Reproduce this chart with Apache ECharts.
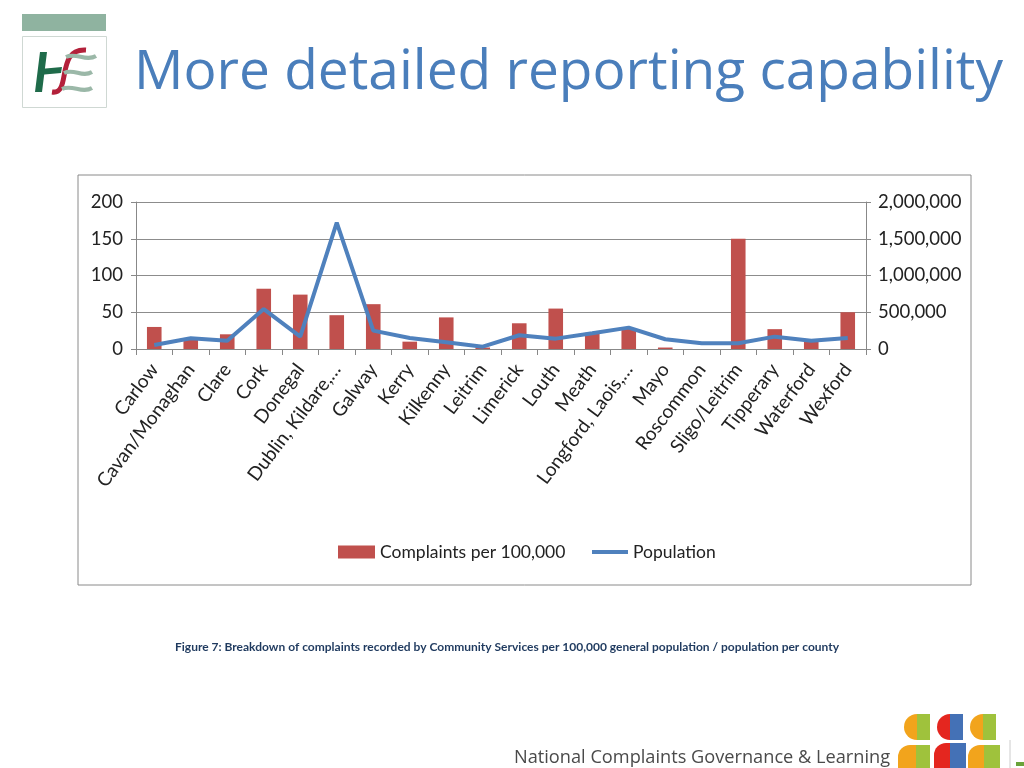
<!DOCTYPE html>
<html><head><meta charset="utf-8">
<script src="https://cdn.jsdelivr.net/npm/echarts@6/dist/echarts.min.js"></script>
<style>html,body{margin:0;padding:0;background:#fff}#c{width:1024px;height:768px}</style>
</head><body><div id="c"></div>
<script>
const categories = ['Carlow','Cavan/Monaghan','Clare','Cork','Donegal','Dublin, Kildare,…','Galway','Kerry','Kilkenny','Leitrim','Limerick','Louth','Meath','Longford, Laois,…','Mayo','Roscommon','Sligo/Leitrim','Tipperary','Waterford','Wexford'];
const complaintsPer100k = [30,13,20,82,74,46,61,10,43,2,35,55,22,28,2,0,150,27,12,50];
const population = [55000,146000,113000,543000,168000,1718000,250000,150000,92000,32000,187000,141000,214000,291000,133000,78000,78000,168000,113000,150000];
const leftTicks = [0,50,100,150,200];
const rightTicks = [0,500000,1000000,1500000,2000000];

const FONT = 'Lato, "Open Sans", sans-serif';
const chart = echarts.init(document.getElementById('c'));
function fmt(v){return v.toLocaleString('en-US');}
chart.setOption({
  animation:false,
  textStyle:{fontFamily:FONT},
  title:{text:'More detailed reporting capability',left:129,top:41,textStyle:{fontSize:55,fontWeight:'normal',color:'#4a7ebb',fontFamily:'"Open Sans", Lato, sans-serif'}},
  grid:{left:136,right:158,top:202,bottom:419},
  legend:[
    {left:333,top:538,itemWidth:37,itemHeight:13,
     textStyle:{fontSize:17.5,color:'#222',fontFamily:FONT},
     data:[{name:'Complaints per 100,000',icon:'rect'}]},
    {left:587,top:538,itemWidth:36,itemHeight:4,
     textStyle:{fontSize:17.5,color:'#222',fontFamily:FONT},
     data:[{name:'Population',icon:'rect'}]}
  ],
  xAxis:{type:'category',data:categories,
    axisLine:{lineStyle:{color:'#888'}},
    axisTick:{show:true,inside:false,length:6,lineStyle:{color:'#888'},alignWithLabel:false},
    axisLabel:{rotate:53,fontSize:19,color:'#222',interval:0,margin:17,fontFamily:FONT}},
  yAxis:[
    {type:'value',min:0,max:200,interval:50,
     axisLine:{show:true,lineStyle:{color:'#888'}},axisTick:{show:true,length:5,lineStyle:{color:'#888'}},
     splitLine:{lineStyle:{color:'#8c8c8c'}},
     axisLabel:{fontSize:18.5,color:'#222',margin:13,fontFamily:FONT,formatter:v=>leftTicks.includes(v)?String(v):''}},
    {type:'value',min:0,max:2000000,interval:500000,
     axisLine:{show:true,lineStyle:{color:'#888'}},axisTick:{show:true,length:5,lineStyle:{color:'#888'}},
     splitLine:{show:false},
     axisLabel:{fontSize:18.5,color:'#222',margin:12,fontFamily:FONT,formatter:v=>rightTicks.includes(v)?fmt(v):''}}
  ],
  series:[
    {name:'Complaints per 100,000',type:'bar',data:complaintsPer100k,yAxisIndex:0,barWidth:'40%',itemStyle:{color:'#c0504d'}},
    {name:'Population',type:'line',data:population,yAxisIndex:1,symbol:'none',lineStyle:{width:4,color:'#4f81bd'},itemStyle:{color:'#4f81bd'}}
  ],
  graphic:[
    {type:'rect',shape:{x:78,y:175,width:893,height:410},style:{fill:'none',stroke:'#8a8a8a',lineWidth:1},silent:true},
    {type:'rect',shape:{x:22,y:14,width:84,height:17},style:{fill:'#8fb3a0'}},
    {type:'rect',shape:{x:22.5,y:36.5,width:84,height:71},style:{fill:'#fff',stroke:'#cfd8d3',lineWidth:1}},
    // HSE logo
    {type:'polygon',shape:{points:[[40,52],[47,52],[42,92],[35,92]]},style:{fill:'#1f6b4a'}},
    {type:'polygon',shape:{points:[[40,69],[62,67],[61,73],[39,75]]},style:{fill:'#1f6b4a'}},
    {type:'bezierCurve',shape:{x1:86,y1:50,x2:52,y2:92,cpx1:55,cpy1:48,cpx2:72,cpy2:95},style:{stroke:'#b3203a',lineWidth:5,fill:'none'}},
    {type:'bezierCurve',shape:{x1:66,y1:57,x2:96,y2:56,cpx1:76,cpy1:52,cpx2:86,cpy2:62},style:{stroke:'#9bb8a8',lineWidth:4,fill:'none'}},
    {type:'bezierCurve',shape:{x1:64,y1:73,x2:92,y2:72,cpx1:74,cpy1:68,cpx2:82,cpy2:78},style:{stroke:'#9bb8a8',lineWidth:4,fill:'none'}},
    {type:'bezierCurve',shape:{x1:62,y1:89,x2:92,y2:88,cpx1:72,cpy1:84,cpx2:82,cpy2:94},style:{stroke:'#9bb8a8',lineWidth:4,fill:'none'}},
    {type:'text',left:175,top:641,style:{text:'Figure 7: Breakdown of complaints recorded by Community Services per 100,000 general population / population per county',font:'bold 12px Lato, "Open Sans", sans-serif',fill:'#1f3a5f'}},
    {type:'text',left:514,top:749,style:{text:'National Complaints Governance & Learning',font:'18.2px "Open Sans", Lato, sans-serif',fill:'#4a4a4a'}},
    {type:'circle',shape:{cx:917,cy:727,r:13},style:{fill:'#f2a41c'}},
    {type:'circle',shape:{cx:950,cy:727,r:13},style:{fill:'#e4261f'}},
    {type:'circle',shape:{cx:983,cy:727,r:13},style:{fill:'#f2a41c'}},
    {type:'rect',shape:{x:917,y:714,width:13,height:26},style:{fill:'#9fc23c'}},
    {type:'rect',shape:{x:950,y:714,width:13,height:26},style:{fill:'#4471b6'}},
    {type:'rect',shape:{x:983,y:714,width:13,height:26},style:{fill:'#9fc23c'}},
    {type:'rect',shape:{x:898,y:745,width:32,height:30,r:[12,12,0,0]},style:{fill:'#f2a41c'}},
    {type:'rect',shape:{x:934,y:743,width:32,height:30,r:[12,12,0,0]},style:{fill:'#e4261f'}},
    {type:'rect',shape:{x:968,y:745,width:32,height:30,r:[12,12,0,0]},style:{fill:'#f2a41c'}},
    {type:'rect',shape:{x:916,y:745,width:14,height:30},style:{fill:'#9fc23c'}},
    {type:'rect',shape:{x:950,y:743,width:16,height:30},style:{fill:'#4471b6'}},
    {type:'rect',shape:{x:984,y:745,width:16,height:30},style:{fill:'#9fc23c'}},
    {type:'line',shape:{x1:1010,y1:740,x2:1010,y2:768},style:{stroke:'#ccc',lineWidth:1}},
    {type:'rect',shape:{x:1016,y:762,width:8,height:4},style:{fill:'#6aa33a'}}
  ]
});
</script></body></html>
